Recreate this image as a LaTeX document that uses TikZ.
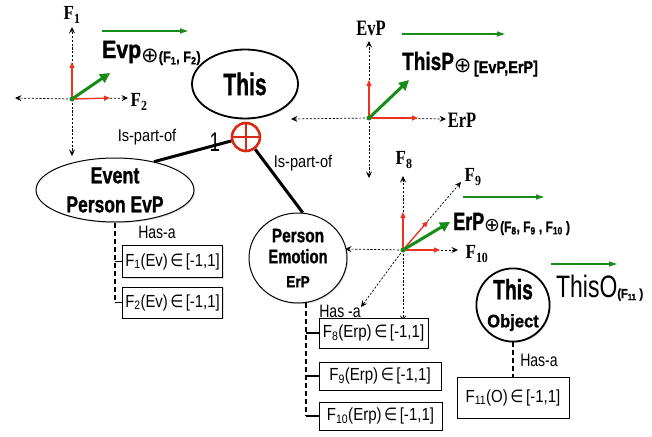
\documentclass[tikz,border=0pt]{standalone}
\usepackage{fontspec}
\usepackage{graphicx}
\setmainfont{Liberation Sans}[BoldFeatures={FakeBold=1.3}]
\newfontfamily\serfont{Liberation Serif}
\newfontfamily\symfont{DejaVu Sans}
\usetikzlibrary{arrows.meta,shapes.geometric,shadows}
\definecolor{ared}{RGB}{238,50,30}
\definecolor{agreen}{RGB}{24,140,24}
\definecolor{pred}{RGB}{214,42,20}
\newcommand\fs[1]{\fontsize{#1}{#1}\selectfont}
\newcommand\sq[2]{\scalebox{#1}[1]{#2}}
\begin{document}
\begin{tikzpicture}[x=1pt,y=-1pt,
  ax/.style={line width=0.7pt, dash pattern=on 2.2pt off 1.6pt, -{Stealth[length=6.5pt,width=6pt,inset=2.5pt]}},
  rarr/.style={ared, line width=1.3pt, -{Triangle[length=6pt,width=5pt]}},
  garr/.style={agreen, line width=3pt, -{Triangle[length=10pt,width=10pt]}},
  gthin/.style={agreen, line width=1.2pt, -{Triangle[length=8pt,width=5pt]}},
  gdot/.style={circle, fill=agreen, inner sep=0pt, minimum size=5pt},
  sh/.style={drop shadow={opacity=0.25, shadow xshift=1.2pt, shadow yshift=-1.2pt}},
  ell/.style={ellipse, draw, line width=1pt, fill=white, inner sep=0pt, sh},
  plusn/.style={circle, draw=pred, line width=2.6pt, fill=white, minimum size=28pt, inner sep=0pt,
    path picture={\draw[pred, line width=2.6pt] (path picture bounding box.north) -- (path picture bounding box.south)
      (path picture bounding box.west) -- (path picture bounding box.east);}},
  fbox/.style={draw, line width=0.8pt, fill=white, inner sep=0pt, sh, font=\fontsize{17.5}{17.5}\selectfont},
  axl/.style={font=\serfont\bfseries\fontsize{20}{20}\selectfont, inner sep=0pt},
  txt/.style={inner sep=0pt},
  thick3/.style={line width=3pt},
  hasdash/.style={line width=1.3pt, dash pattern=on 5pt off 3pt},
  tick/.style={line width=1.6pt}
]
\useasboundingbox (0,0) rectangle (652,436);

% ---------- axes 1 (EvP) ----------
\coordinate (o1) at (72,99);
\coordinate (o1u) at (72,27);
\coordinate (o1d) at (72,156);
\coordinate (o1l) at (15,98);
\coordinate (o1r) at (128,98);
\coordinate (r1u) at (72,62);
\coordinate (r1r) at (110,98);
\coordinate (g1) at (110,73);
\coordinate (g1a) at (102,31);
\coordinate (g1b) at (188,31);
\draw[ax] (o1) -- (o1u);
\draw[ax] (o1) -- (o1d);
\draw[ax] (o1) -- (o1l);
\draw[ax] (o1) -- (o1r);
\draw[rarr] (o1) -- (r1u);
\draw[rarr] (o1) -- (r1r);
\draw[garr] (o1) -- (g1);
\draw[gthin] (g1a) -- (g1b);
\node[gdot] (o1dot) at (o1) {};
\node[axl] (lF1) at (72,15) {\sq{0.85}{F\textsubscript{1}}};
\node[axl] (lF2) at (139,102) {\sq{0.85}{F\textsubscript{2}}};
\node[txt, anchor=base west] (lEvp) at (102,58)
  {{\bfseries\sq{0.85}{\fs{25}Evp}}\raisebox{-4pt}{\symfont\fs{21}⊕}\raisebox{-4pt}{\bfseries\sq{0.85}{\fs{15}(F\textsubscript{1}, F\textsubscript{2})}}};

% ---------- axes 2 (ThisP) ----------
\coordinate (o2) at (369,118);
\coordinate (o2u) at (369,41);
\coordinate (o2d) at (369,178);
\coordinate (o2l) at (291,119);
\coordinate (o2r) at (446,119);
\coordinate (r2u) at (369,80);
\coordinate (r2r) at (418,118);
\coordinate (g2) at (409,80);
\coordinate (g2a) at (402,34);
\coordinate (g2b) at (505,34);
\draw[ax] (o2) -- (o2u);
\draw[ax] (o2) -- (o2d);
\draw[ax] (o2) -- (o2l);
\draw[ax] (o2) -- (o2r);
\draw[rarr] (o2) -- (r2u);
\draw[rarr] (o2) -- (r2r);
\draw[garr] (o2) -- (g2);
\draw[gthin] (g2a) -- (g2b);
\node[gdot] (o2dot) at (o2) {};
\node[axl, font=\serfont\bfseries\fontsize{22}{22}\selectfont] (lEvP) at (371,28) {\sq{0.75}{EvP}};
\node[axl, font=\serfont\bfseries\fontsize{22}{22}\selectfont] (lErP) at (462,120) {\sq{0.75}{ErP}};
\node[txt, anchor=base west] (lThisP) at (402,70)
  {{\bfseries\sq{0.76}{\fs{25}ThisP}}\raisebox{-2pt}{\symfont\fs{21}⊕}\raisebox{-3pt}{\bfseries\sq{0.85}{\fs{17}\,[EvP,ErP]}}};

% ---------- axes 3 (ErP) ----------
\coordinate (o3) at (403,250);
\coordinate (o3u) at (403,176);
\coordinate (o3d) at (403,322);
\coordinate (o3l) at (345,249);
\coordinate (o3r) at (458,250);
\coordinate (o3ne) at (461,182);
\coordinate (o3sw) at (361,307);
\coordinate (r3u) at (403,212);
\coordinate (r3r) at (440,250);
\coordinate (r3d) at (428,221);
\coordinate (g3) at (450,222);
\coordinate (g3a) at (463,197);
\coordinate (g3b) at (544,197);
\draw[ax] (o3) -- (o3u);
\draw[ax] (o3) -- (o3d);
\draw[ax] (o3) -- (o3l);
\draw[ax] (o3) -- (o3r);
\draw[ax] (o3) -- (o3ne);
\draw[ax] (o3) -- (o3sw);
\draw[rarr] (o3) -- (r3u);
\draw[rarr] (o3) -- (r3r);
\draw[rarr] (o3) -- (r3d);
\draw[garr] (o3) -- (g3);
\draw[gthin] (g3a) -- (g3b);
\node[gdot] (o3dot) at (o3) {};
\node[axl] (lF8) at (404,160) {\sq{0.85}{F\textsubscript{8}}};
\node[axl] (lF9) at (473,177) {\sq{0.85}{F\textsubscript{9}}};
\node[axl] (lF10) at (477,254) {\sq{0.85}{F\textsubscript{10}}};
\node[txt, anchor=base west] (lErPs) at (453,230)
  {{\bfseries\sq{0.72}{\fs{25}ErP}}\raisebox{-1pt}{\symfont\fs{19}⊕}\raisebox{-2pt}{\bfseries\sq{0.8}{\fs{15}(F\textsubscript{8}, F\textsubscript{9} , F\textsubscript{10} )}}};

% ---------- main nodes ----------
\node[ell, line width=1.8pt, minimum width=106pt, minimum height=69pt] (this) at (245,84)
  {\sq{0.68}{\bfseries\fs{31}This}};
\node[ell, minimum width=158pt, minimum height=64pt, align=center,
  font=\bfseries\fontsize{23}{29}\selectfont] (evp) at (115,190)
  {\sq{0.78}{Event}\\\sq{0.76}{Person EvP}};
\node[ell, minimum width=98pt, minimum height=90pt, align=center,
  font=\bfseries\fontsize{19.5}{21}\selectfont] (pe) at (298,258)
  {\sq{0.79}{Person}\\\sq{0.76}{Emotion}\\[3pt]\sq{0.85}{\fs{16}ErP}};
\node[ell, circle, line width=1.8pt, minimum size=70pt, align=center,
  font=\bfseries\fontsize{28}{28}\selectfont] (tob) at (513,305)
  {\sq{0.69}{This}\\\sq{0.92}{\fs{18}Object}};
\node[plusn] (plus) at (246,137) {};

\draw[thick3] (plus) -- (evp.36);
\draw[thick3] (plus) -- (pe.84);

\node[txt, font=\fontsize{17}{17}\selectfont] (ip1) at (147,137) {\sq{0.86}{Is-part-of}};
\node[txt, font=\fontsize{17}{17}\selectfont] (ip2) at (303,163) {\sq{0.86}{Is-part-of}};
\node[txt, font=\fontsize{27}{27}\selectfont] (one) at (215,142) {\sq{0.7}{1}};

% ---------- ThisO ----------
\coordinate (g4a) at (551,264);
\coordinate (g4b) at (617,264);
\draw[gthin] (g4a) -- (g4b);
\node[txt, anchor=base west] (lThisO) at (556,297)
  {\sq{0.74}{\fs{31}ThisO}\raisebox{-1pt}{\bfseries\sq{0.85}{\fs{13}(F\textsubscript{11} )}}};

% ---------- boxes ----------
\node[fbox, minimum width=100pt, minimum height=32pt] (f1) at (172.5,261.5)
  {\sq{0.85}{F\textsubscript{1}(Ev)\,{\symfont ∈}\,[-1,1]}};
\node[fbox, minimum width=100pt, minimum height=31pt] (f2) at (172.5,302.5)
  {\sq{0.85}{F\textsubscript{2}(Ev)\,{\symfont ∈}\,[-1,1]}};
\node[fbox, minimum width=109pt, minimum height=30pt] (f8) at (373.5,333)
  {\sq{0.86}{F\textsubscript{8}(Erp)\,{\symfont ∈}\,[-1,1]}};
\node[fbox, minimum width=122pt, minimum height=28pt] (f9) at (380,376)
  {\sq{0.86}{F\textsubscript{9}(Erp)\,{\symfont ∈}\,[-1,1]}};
\node[fbox, minimum width=123pt, minimum height=28pt] (f10) at (380.5,416)
  {\sq{0.86}{F\textsubscript{10}(Erp)\,{\symfont ∈}\,[-1,1]}};
\node[fbox, minimum width=112pt, minimum height=41pt] (f11) at (513,397.5)
  {\sq{0.86}{F\textsubscript{11}(O)\,{\symfont ∈}\,[-1,1]}};

% ---------- has-a connectors ----------
\draw[hasdash] (evp.south) -- (evp.south |- f2.west);
\draw[tick] (evp.south |- f1.west) -- (f1.west);
\draw[tick] (evp.south |- f2.west) -- (f2.west);
\coordinate (peb) at (pe.-80);
\draw[hasdash] (peb) -- (peb |- f10.west);
\draw[tick] (peb |- f8.west) -- (f8.west);
\draw[tick] (peb |- f9.west) -- (f9.west);
\draw[tick] (peb |- f10.west) -- (f10.west);
\draw[hasdash] (tob.south) -- (f11.north);

\node[txt, font=\fontsize{18}{18}\selectfont] (h1) at (157,232) {\sq{0.78}{Has-a}};
\node[txt, font=\fontsize{18}{18}\selectfont] (h2) at (340,311) {\sq{0.78}{Has -a}};
\node[txt, font=\fontsize{18}{18}\selectfont] (h3) at (539,360) {\sq{0.78}{Has-a}};
\end{tikzpicture}
\end{document}
